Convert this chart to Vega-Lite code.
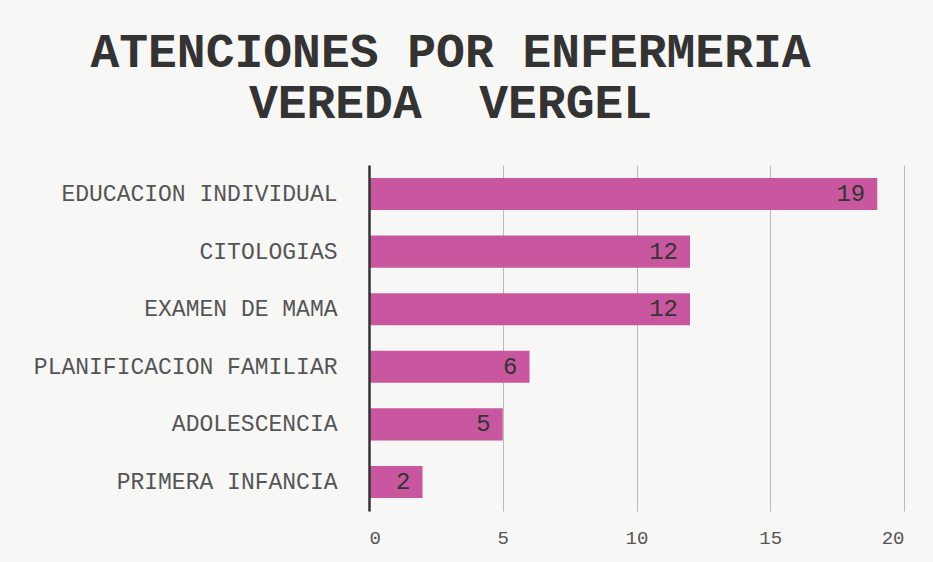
{
  "$schema": "https://vega.github.io/schema/vega-lite/v6.json",
  "width": 535,
  "height": 346,
  "autosize": "none",
  "padding": {"left": 369, "top": 165, "right": 29, "bottom": 51},
  "background": "#f7f7f5",
  "config": {"view": {"stroke": null}},
  "title": {
    "text": ["ATENCIONES POR ENFERMERIA", "VEREDA\u00a0\u00a0VERGEL"],
    "font": "Liberation Mono",
    "fontSize": 48,
    "fontWeight": "bold",
    "color": "#333333",
    "anchor": "middle",
    "frame": "group",
    "dx": -186,
    "lineHeight": 51,
    "offset": 37
  },
  "data": {
    "values": [
      {"cat": "EDUCACION INDIVIDUAL", "value": 19},
      {"cat": "CITOLOGIAS", "value": 12},
      {"cat": "EXAMEN DE MAMA", "value": 12},
      {"cat": "PLANIFICACION FAMILIAR", "value": 6},
      {"cat": "ADOLESCENCIA", "value": 5},
      {"cat": "PRIMERA INFANCIA", "value": 2}
    ]
  },
  "encoding": {
    "y": {
      "field": "cat",
      "type": "nominal",
      "sort": null,
      "scale": {"paddingInner": 0.444, "paddingOuter": 0.226},
      "axis": {
        "title": null,
        "labelFont": "Liberation Mono",
        "labelFontSize": 23,
        "labelColor": "#555555",
        "labelLimit": 0,
        "ticks": false,
        "labelPadding": 32,
        "domainColor": "#333333",
        "domainWidth": 2.5,
        "zindex": 2
      }
    },
    "x": {
      "field": "value",
      "type": "quantitative",
      "scale": {"domain": [0, 20], "nice": false},
      "axis": {
        "title": null,
        "values": [0, 5, 10, 15, 20],
        "grid": true,
        "gridColor": "#bbbbbb",
        "domain": false,
        "ticks": false,
        "labelFont": "Liberation Mono",
        "labelFontSize": 19,
        "labelColor": "#555555",
        "labelPadding": 17,
        "zindex": 0
      }
    }
  },
  "layer": [
    {"mark": {"type": "bar", "color": "#c9579f"}},
    {
      "mark": {
        "type": "text",
        "align": "right",
        "baseline": "middle",
        "dx": -12,
        "font": "Liberation Mono",
        "fontSize": 24,
        "color": "#333333"
      },
      "encoding": {"text": {"field": "value", "type": "quantitative"}}
    }
  ]
}
